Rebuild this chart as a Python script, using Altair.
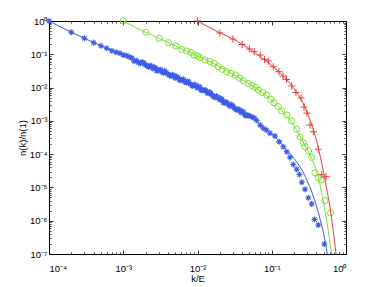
import altair as alt
import pandas as pd

# ---------------- data ----------------
# blue: E = 10^4  (stars + fitted curve)
BLUE_K = [1e-4, 2e-4, 3e-4, 4e-4, 5e-4, 6e-4, 7e-4, 8e-4, 9e-4, 1.0e-3, 1.1e-3, 1.2e-3,
          1.3e-3, 1.4e-3, 1.5e-3, 1.6e-3, 1.7e-3, 1.8e-3, 1.9e-3, 2.0e-3, 2.1e-3, 2.2e-3,
          2.3e-3, 2.4e-3, 2.5e-3, 2.6e-3, 2.7e-3, 2.8e-3, 2.9e-3, 3.0e-3, 3.2e-3, 3.3e-3,
          3.5e-3, 3.6e-3, 3.8e-3, 4.0e-3, 4.2e-3, 4.4e-3, 4.6e-3, 4.8e-3, 5.0e-3, 5.2e-3,
          5.5e-3, 5.7e-3, 6.0e-3, 6.2e-3, 6.5e-3, 6.8e-3, 7.1e-3, 7.4e-3, 7.7e-3, 8.0e-3,
          8.4e-3, 8.7e-3, 9.1e-3, 9.5e-3, 9.9e-3, 0.0103, 0.0108, 0.0112, 0.0117, 0.0122,
          0.0128, 0.0133, 0.0139, 0.0145, 0.0152, 0.0158, 0.0165, 0.0172, 0.0180, 0.0187,
          0.0196, 0.0204, 0.0213, 0.0222, 0.0232, 0.0242, 0.0253, 0.0263, 0.0275, 0.0286,
          0.0299, 0.0311, 0.0325, 0.0338, 0.0353, 0.0368, 0.0384, 0.0400, 0.0418, 0.0435,
          0.0454, 0.0473, 0.0494,
          0.0537, 0.058, 0.0627, 0.070, 0.0769, 0.085, 0.0947, 0.1106, 0.1264, 0.1431, 0.159,
          0.176, 0.195, 0.2168, 0.2357, 0.254, 0.2805, 0.3107, 0.3451, 0.3765, 0.4235, 0.51]
BLUE_N = [1.0, 0.458, 0.302, 0.223, 0.181, 0.151, 0.128, 0.115, 0.107, 0.0952, 0.092, 0.0847,
          0.078, 0.0619, 0.0652, 0.0571, 0.0527, 0.0587, 0.0546, 0.0474, 0.0444, 0.0416,
          0.0459, 0.0433, 0.0372, 0.0411, 0.0389, 0.0327, 0.0325, 0.0346, 0.0342, 0.0296,
          0.0274, 0.0314, 0.0284, 0.0253, 0.0236, 0.0221, 0.0243, 0.0228, 0.0195, 0.0216,
          0.0200, 0.0168, 0.01637, 0.0174, 0.01734, 0.01476, 0.01413, 0.01556, 0.01426, 0.0128,
          0.01164, 0.01122, 0.01233, 0.0115, 0.00984, 0.0108, 0.01021, 0.00834, 0.00828, 0.00847,
          0.00836, 0.00713, 0.00662, 0.00741, 0.00667, 0.00592, 0.00535, 0.00506, 0.00548, 0.0051,
          0.00438, 0.00467, 0.00442, 0.00357, 0.00344, 0.00366, 0.00345, 0.00299, 0.00275, 0.00309,
          0.00283, 0.00247, 0.00226, 0.00211, 0.00222, 0.00216, 0.00177, 0.00194, 0.00182, 0.00147,
          0.00146, 0.00148, 0.00143,
          0.001334, 0.001216, 0.001026, 0.000733, 0.000598, 0.000531, 0.000423, 0.000351,
          0.000237, 0.0001675, 0.0001186, 8.04e-5, 4.89e-5, 3.51e-5, 2.45e-5, 1.428e-5, 8.8e-6,
          4.89e-6, 3.18e-6, 1.09e-6, 7.45e-7, 2.0e-7]
BLUE_FIT_K = [1e-4, 2e-4, 5e-4, 1e-3, 2e-3, 5e-3, 0.01, 0.02, 0.05, 0.1, 0.125, 0.15, 0.2,
              0.25, 0.3, 0.35, 0.4, 0.45, 0.5, 0.56]
BLUE_FIT_N = [1.0, 0.458, 0.181, 0.094, 0.048, 0.0205, 0.0104, 0.0045, 0.0014, 0.0004,
              0.00025, 0.000155, 7.4e-5, 3.6e-5, 1.6e-5, 6.8e-6, 2.8e-6, 1.07e-6, 4.1e-7, 1e-7]

# green: E = 10^3  (circles + fitted curve)
GREEN_K = [0.001, 0.00202, 0.00306, 0.00407, 0.00513, 0.00613, 0.00715, 0.00818, 0.00897,
           0.0100, 0.0108, 0.0126, 0.0147, 0.0167, 0.0191, 0.0214, 0.0247, 0.0283, 0.0325,
           0.0368, 0.0414, 0.0483, 0.0542, 0.0604, 0.0659, 0.0755, 0.0855, 0.0968, 0.107,
           0.1225, 0.136, 0.159, 0.186, 0.217, 0.240, 0.266, 0.280, 0.3125, 0.345, 0.382,
           0.4235, 0.4606, 0.5215, 0.618]
GREEN_N = [1.0, 0.4576, 0.302, 0.2229, 0.1774, 0.1412, 0.1256, 0.1132, 0.0952, 0.0888,
           0.079, 0.0674, 0.0599, 0.0536, 0.0424, 0.0354, 0.030, 0.0268, 0.0239, 0.019,
           0.0161, 0.01327, 0.01155, 0.01006, 0.00846, 0.00712, 0.00598, 0.00445, 0.00351,
           0.0027, 0.00198, 0.0015, 0.00099, 0.000558, 0.000328, 0.000221, 0.0001675,
           0.0001244, 8.04e-5, 2.77e-5, 1.99e-5, 1.67e-5, 4.06e-6, 1.71e-6]
GREEN_FIT_K = [0.001, 0.002, 0.003, 0.005, 0.007, 0.01, 0.015, 0.02, 0.03, 0.05, 0.07, 0.1,
               0.15, 0.2, 0.25, 0.3, 0.35, 0.4, 0.45, 0.5, 0.55, 0.6, 0.643]
GREEN_FIT_N = [1.0, 0.46, 0.305, 0.18, 0.125, 0.088, 0.059, 0.042, 0.0255, 0.0128, 0.0079,
               0.0042, 0.0016, 0.0007, 0.00029, 0.000137, 6.8e-5, 3.3e-5, 1.1e-5, 3.3e-6,
               1.0e-6, 2.8e-7, 1e-7]

# red: E = 10^2  (pluses + fitted curve)
RED_K = [0.01, 0.02, 0.03, 0.04, 0.05, 0.058, 0.07, 0.08, 0.09, 0.105, 0.125, 0.142, 0.158,
         0.186, 0.212, 0.248, 0.272, 0.298, 0.327, 0.363, 0.424, 0.471, 0.538]
RED_N = [1.0, 0.436, 0.288, 0.197, 0.144, 0.12, 0.095, 0.0707, 0.0629, 0.0423, 0.030, 0.0223,
         0.0175, 0.0112, 0.0071, 0.0049, 0.0026, 0.0017, 0.00075, 0.00047, 0.00014, 2.4e-5,
         2.1e-5]
RED_FIT_K = [0.01, 0.02, 0.03, 0.04, 0.05, 0.07, 0.1, 0.15, 0.2, 0.25, 0.3, 0.35, 0.4, 0.45,
             0.5, 0.55, 0.6, 0.65, 0.7, 0.735]
RED_FIT_N = [1.0, 0.44, 0.29, 0.2, 0.145, 0.085, 0.046, 0.02, 0.0092, 0.0043, 0.0018, 0.0007,
             0.00026, 8.5e-5, 2.8e-5, 9e-6, 3.1e-6, 9e-7, 2.5e-7, 1e-7]

# axis ticks / labels
X_MAJOR = [1e-4, 1e-3, 1e-2, 1e-1, 1.0]
X_LABELS = ["10\u207b\u2074", "10\u207b\u00b3", "10\u207b\u00b2", "10\u207b\u00b9", "10\u2070"]
Y_MAJOR = [1e-7, 1e-6, 1e-5, 1e-4, 1e-3, 1e-2, 1e-1, 1.0]
Y_LABELS = ["10\u207b\u2077", "10\u207b\u2076", "10\u207b\u2075", "10\u207b\u2074",
            "10\u207b\u00b3", "10\u207b\u00b2", "10\u207b\u00b9", "10\u2070"]
X_MINOR = [m * 10.0 ** e for e in range(-4, 0) for m in range(2, 10)]
Y_MINOR = [m * 10.0 ** e for e in range(-7, 0) for m in range(2, 10)]

BLUE = "#3d5ce8"
GREEN = "#7ee030"
RED = "#ee3a3a"
FONT = "Liberation Sans"
W, H = 297, 233

ASTERISK = "M-1,0L1,0M0,-1L0,1M-0.71,-0.71L0.71,0.71M-0.71,0.71L0.71,-0.71"
PLUS = "M-1,0L1,0M0,-1L0,1"


def label_expr(values, labels):
    parts = [f"datum.value < {v * 3:.3g} ? '{lab}'" for v, lab in zip(values[:-1], labels[:-1])]
    return " : ".join(parts) + f" : '{labels[-1]}'"


XS = alt.Scale(type="log", domain=[1e-4, 1], nice=False)
YS = alt.Scale(type="log", domain=[1e-7, 1], nice=False)

common = dict(domain=False, grid=False, tickColor="black", tickWidth=0.8)

ax_b_major = alt.Axis(orient="bottom", values=X_MAJOR, tickSize=4, offset=-4,
                      labelExpr=label_expr(X_MAJOR, X_LABELS), labelPadding=9,
                      labelFont=FONT, labelFontSize=9.5, labelColor="black",
                      title="k/E", titleFont=FONT, titleFontSize=9.5, titleFontWeight="normal",
                      titleColor="black", titleX=W / 2, titleY=28, titleBaseline="middle",
                      titleAlign="center", **common)
ay_l_major = alt.Axis(orient="left", values=Y_MAJOR, tickSize=4, offset=-4,
                      labelExpr=label_expr(Y_MAJOR, Y_LABELS), labelPadding=2,
                      labelFont=FONT, labelFontSize=9.5, labelColor="black",
                      title="n(k)/n(1)", titleFont=FONT, titleFontSize=9.5,
                      titleFontWeight="normal", titleColor="black", titleAngle=270,
                      titleX=-31, titleY=H / 2, titleBaseline="middle", titleAlign="center",
                      **common)
ax_b_minor = alt.Axis(orient="bottom", values=X_MINOR, tickSize=2, offset=-2, labels=False,
                      title=None, **common)
ay_l_minor = alt.Axis(orient="left", values=Y_MINOR, tickSize=2, offset=-2, labels=False,
                      title=None, **common)
ax_t_major = alt.Axis(orient="top", values=X_MAJOR, tickSize=4, offset=-4, labels=False,
                      title=None, **common)
ay_r_major = alt.Axis(orient="right", values=Y_MAJOR, tickSize=4, offset=-4, labels=False,
                      title=None, **common)
ax_t_minor = alt.Axis(orient="top", values=X_MINOR, tickSize=2, offset=-2, labels=False,
                      title=None, **common)
ay_r_minor = alt.Axis(orient="right", values=Y_MINOR, tickSize=2, offset=-2, labels=False,
                      title=None, **common)


def frame(ks, ns):
    return pd.DataFrame({"k": ks, "n": ns})


def enc(chart, ax=None, ay=None):
    return chart.encode(
        x=alt.X("k:Q", scale=XS, axis=ax),
        y=alt.Y("n:Q", scale=YS, axis=ay),
    )


blue_pts = enc(alt.Chart(frame(BLUE_K, BLUE_N)).mark_point(
    shape=ASTERISK, size=36, filled=False, color=BLUE, strokeWidth=1.1, opacity=1),
    ax_t_minor, ay_r_minor)
green_pts = enc(alt.Chart(frame(GREEN_K, GREEN_N)).mark_point(
    shape="circle", size=38, filled=False, color=GREEN, strokeWidth=1, opacity=1))
red_pts = enc(alt.Chart(frame(RED_K, RED_N)).mark_point(
    shape=PLUS, size=50, filled=False, color=RED, strokeWidth=1, opacity=1))

blue_fit = enc(alt.Chart(frame(BLUE_FIT_K, BLUE_FIT_N)).mark_line(
    color=BLUE, strokeWidth=1, interpolate="monotone"), ax_b_major, ay_l_major)
green_fit = enc(alt.Chart(frame(GREEN_FIT_K, GREEN_FIT_N)).mark_line(
    color=GREEN, strokeWidth=1, interpolate="monotone"), ax_b_minor, ay_l_minor)
red_fit = enc(alt.Chart(frame(RED_FIT_K, RED_FIT_N)).mark_line(
    color=RED, strokeWidth=1, interpolate="monotone"), ax_t_major, ay_r_major)

chart = (
    alt.layer(blue_pts, green_pts, red_pts, blue_fit, green_fit, red_fit)
    .resolve_axis(x="independent", y="independent")
    .properties(
        width=W, height=H,
        autosize=alt.AutoSizeParams(type="none"),
        padding={"left": 41, "top": 13, "right": 20, "bottom": 28},
        background="white",
    )
    .configure_view(stroke="black", strokeWidth=1)
)

chart.save("out.html", embed_options={"renderer": "svg", "actions": False})
